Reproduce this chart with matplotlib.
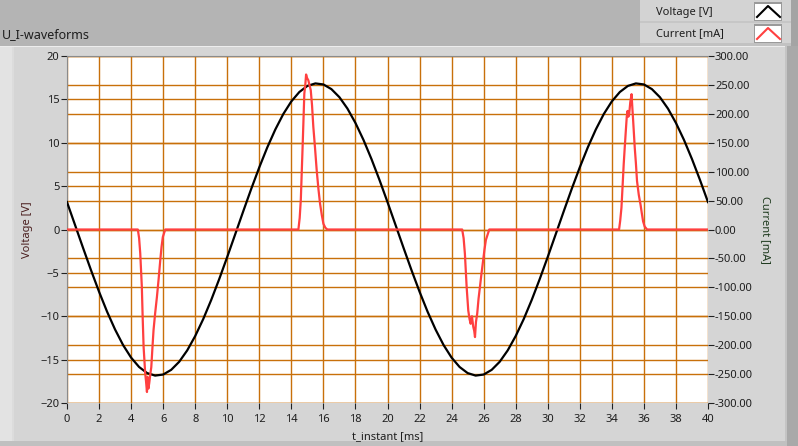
import matplotlib.pyplot as plt
from matplotlib.patches import Rectangle
from matplotlib.lines import Line2D
import numpy as np

plt.rcParams['font.family'] = ['Noto Sans', 'DejaVu Sans']

# Voltage [V], sampled every 0.5 ms from 0 to 40 ms
t_volt = np.arange(0, 40.01, 0.5)
voltage = [3.16, 0.53, -2.11, -4.70, -7.17, -9.47, -11.53, -13.32, -14.77, -15.85,
           -16.55, -16.84, -16.72, -16.18, -15.25, -13.94, -12.28, -10.33, -8.12, -5.71,
           -3.16, -0.53, 2.11, 4.70, 7.17, 9.47, 11.53, 13.32, 14.77, 15.85,
           16.55, 16.84, 16.72, 16.18, 15.25, 13.94, 12.28, 10.33, 8.12, 5.71,
           3.16, 0.53, -2.11, -4.70, -7.17, -9.47, -11.53, -13.32, -14.77, -15.85,
           -16.55, -16.84, -16.72, -16.18, -15.25, -13.94, -12.28, -10.33, -8.12, -5.71,
           -3.16, -0.53, 2.11, 4.70, 7.17, 9.47, 11.53, 13.32, 14.77, 15.85,
           16.55, 16.84, 16.72, 16.18, 15.25, 13.94, 12.28, 10.33, 8.12, 5.71, 3.16]

# Current [mA]
t_cur = [0,
         4.42, 4.50, 4.57, 4.67, 4.72, 4.78, 4.85, 4.88, 4.93, 4.99, 5.03, 5.08,
         5.13, 5.20, 5.26, 5.33, 5.40, 5.50, 5.61, 5.72, 5.82, 5.90, 5.98, 6.13,
         14.44, 14.52, 14.59, 14.65, 14.71, 14.81, 14.87, 14.92, 14.98, 15.06, 15.13,
         15.21, 15.29, 15.37, 15.48, 15.58, 15.69, 15.79, 15.90, 16.00, 16.12, 16.25,
         24.66, 24.75, 24.83, 24.94, 25.04, 25.12, 25.19, 25.27, 25.35, 25.41,
         25.46, 25.52, 25.60, 25.68, 25.77, 25.87, 25.97, 26.05, 26.14, 26.35,
         34.45, 34.52, 34.60, 34.67, 34.74, 34.80, 34.87, 34.93, 34.98, 35.03, 35.08,
         35.15, 35.23, 35.28, 35.33, 35.43, 35.50, 35.57, 35.68, 35.79, 35.87, 35.95,
         36.05, 36.20,
         40]
current = [0,
           0, -15, -41, -99, -150, -203, -235, -249, -262, -281, -255, -275,
           -266, -250, -238, -205, -174, -145, -117, -85, -53, -30, -13, 0,
           0, 20, 51, 100, 149, 235, 250, 268, 262, 258, 250,
           241, 215, 178, 140, 103, 70, 45, 25, 10, 3, 0,
           0, -15, -42, -100, -140, -155, -163, -150, -168, -175,
           -186, -160, -145, -120, -99, -75, -53, -35, -18, 0,
           0, 15, 38, 75, 113, 140, 170, 195, 205, 195, 199,
           220, 234, 210, 188, 141, 115, 84, 60, 43, 28, 14,
           5, 0,
           0]

x_ticks = list(range(0, 41, 2))
v_ticks = list(range(-20, 21, 5))
i_ticks = list(range(-300, 301, 50))

W, H = 798, 446
grid_col = '#C8700A'
txt_col = '#1E1E1E'


def build(strategy):
    fig = plt.figure(figsize=(W / 100, H / 100), dpi=100)

    def px_rect(x0, y0, x1, y1, color, z=-10):
        # rectangle in pixel coords (origin top-left)
        fig.add_artist(Rectangle((x0 / W, 1 - y1 / H), (x1 - x0) / W, (y1 - y0) / H,
                                 transform=fig.transFigure, facecolor=color,
                                 edgecolor='none', zorder=z))

    if strategy == 0:
        fig.set_facecolor('#B4B4B4')
        px_rect(0, 46, 798, 446, '#D5D5D5', -10)
        px_rect(67, 56, 708, 403, 'white', -5)
    else:
        # gray panel drawn around the plot area only
        fig.set_facecolor('white')
        px_rect(0, 0, 798, 46, '#B4B4B4', -10)
        px_rect(0, 46, 67, 446, '#D5D5D5', -10)
        px_rect(708, 46, 798, 446, '#D5D5D5', -10)
        px_rect(67, 46, 708, 56, '#D5D5D5', -10)
        px_rect(67, 403, 708, 446, '#D5D5D5', -10)
    px_rect(0, 46, 798, 47, '#EDEDED', -9)
    px_rect(0, 47, 12, 446, '#E3E3E3', -9)
    px_rect(12, 47, 14, 446, '#DCDCDC', -9)
    px_rect(787, 46, 798, 446, '#A9A9A9', -9)
    px_rect(785, 46, 787, 446, '#C4C4C4', -9)
    px_rect(0, 441, 787, 446, '#C0C0C0', -9)

    # Legend
    px_rect(640, 0, 791, 44, '#D3D3D3', -8)
    px_rect(640, 21, 791, 23, '#C6C6C6', -7)
    px_rect(791, 0, 798, 46, '#A4A4A4', -8)
    px_rect(640, 43, 791, 46, '#C2C2C2', -7)
    for y0, name, col in [(2, 'Voltage [V]', 'black'), (24, 'Current [mA]', '#FF4040')]:
        fig.text(656 / W, 1 - (y0 + 10) / H, name, fontsize=8, color=txt_col,
                 va='center', ha='left')
        px_rect(754, y0 + 0.5, 782, y0 + 18.5, '#9A9A9A', -6)
        px_rect(755, y0 + 1.5, 781, y0 + 17.5, 'white', -5)
        fig.add_artist(Line2D([757 / W, 768 / W, 780 / W],
                              [1 - (y0 + 15) / H, 1 - (y0 + 4) / H, 1 - (y0 + 15) / H],
                              transform=fig.transFigure, color=col, linewidth=1.5))

    fig.text(2 / W, 1 - 35 / H, 'U_I-waveforms', fontsize=9, color=txt_col,
             va='center', ha='left')

    # Plot area: ax = voltage (left), ax2 = current (right)
    ax = fig.add_axes([67 / W, 1 - 403 / H, 641 / W, 347 / H])
    ax2 = ax.twinx()
    if strategy < 2:
        ax.set_zorder(ax2.get_zorder() + 1)
        ax.patch.set_visible(False)
        ax2.patch.set_visible(False)
        ax.plot(t_volt, voltage, color='black', linewidth=1.6, zorder=3)
        ax.plot(t_cur, current, color='#FF4040', linewidth=1.6, zorder=4,
                transform=ax2.transData)
    else:
        ax.patch.set_visible(True)
        ax.patch.set_facecolor('white')
        ax2.patch.set_visible(False)
        ax.plot(t_volt, voltage, color='black', linewidth=1.6, zorder=3)
        ax2.plot(t_cur, current, color='#FF4040', linewidth=1.6, zorder=4)

    ax.set_xlim(0, 40)
    ax.set_ylim(-20, 20)
    ax2.set_ylim(-300, 300)
    ax.set_xticks(x_ticks)
    ax.set_yticks(v_ticks)
    ax2.set_yticks(i_ticks)
    ax2.set_yticklabels([f'{v:.2f}' for v in i_ticks])

    ax.grid(True, color=grid_col, linewidth=1.0)
    ax2.grid(True, axis='y', color=grid_col, linewidth=1.0)
    ax.set_axisbelow(True)
    ax2.set_axisbelow(True)

    for a in (ax, ax2):
        for s in a.spines.values():
            s.set_visible(False)
        a.tick_params(colors='#202020', labelcolor=txt_col, labelsize=8,
                      length=4, width=0.8)
    ax.spines['left'].set_visible(True)
    ax.spines['top'].set_visible(True)
    ax.spines['left'].set_color('#8A8A8A')
    ax.spines['top'].set_color('#8A8A8A')
    ax.tick_params(axis='y', pad=1.5)
    ax.tick_params(axis='x', pad=4)
    ax2.tick_params(axis='y', pad=1)

    ax.set_xlabel('t_instant [ms]', fontsize=8, color=txt_col, labelpad=4)
    ax.set_ylabel('Voltage [V]', fontsize=8, color='#4A1E1E', labelpad=5)
    ax2.set_ylabel('Current [mA]', fontsize=8, color='#1E3A1E', rotation=270,
                   labelpad=13)

    fig.savefig('out.png', dpi=100, facecolor=fig.get_facecolor())
    plt.close(fig)


# check that the plot area really comes out white, else try another layering
for strategy in range(3):
    build(strategy)
    img = plt.imread('out.png')
    if img[120, 110, :3].min() > 0.97 and img[300, 400, :3].min() > 0.97:
        break
